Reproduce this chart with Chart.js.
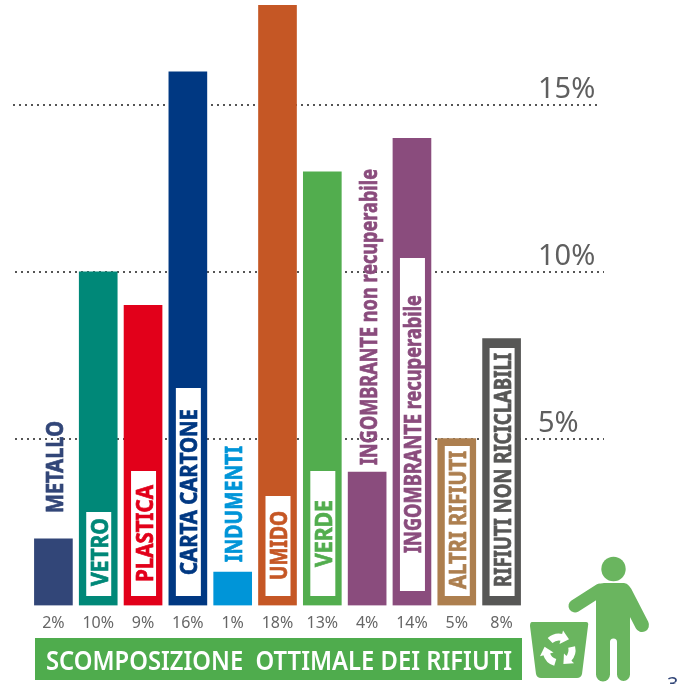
<!DOCTYPE html>
<html>
<head>
<meta charset="utf-8">
<style>
  html, body { margin: 0; padding: 0; background: #fff; overflow: hidden; }
  canvas { display: block; }
</style>
<script src="https://cdn.jsdelivr.net/npm/chart.js@4"></script>
</head>
<body>
<canvas id="wasteChart" width="680" height="684"></canvas>
<script>
const categories = ['METALLO', 'VETRO', 'PLASTICA', 'CARTA CARTONE', 'INDUMENTI', 'UMIDO', 'VERDE',
  'INGOMBRANTE non recuperabile', 'INGOMBRANTE recuperabile', 'ALTRI RIFIUTI', 'RIFIUTI NON RICICLABILI'];
const values = [2, 10, 9, 16, 1, 18, 13, 4, 14, 5, 8];
const barColors = ['#324678', '#008878', '#e2001a', '#003882', '#0095d8', '#c55725', '#52ad4e',
  '#8a4c7d', '#8a4c7d', '#ad7f4f', '#575756'];
const gridValues = [5, 10, 15];
const titleText = 'SCOMPOSIZIONE  OTTIMALE DEI RIFIUTI';
const pageNumber = '3';

// label layout, in page pixels: [top, bottom] of the text, and of the white box (null = no box)
const labelSpans = [[421, 513], [518, 586], [485, 582], [409, 575], [446, 562], [511, 580], [500, 567],
  [169, 465], [295, 553], [451, 589], [353, 587]];
const labelBoxes = [null, [512, 596], [471, 596], [388, 596], null, [496, 596], [471, 596],
  null, [258, 591], [446, 596], [348, 596]];

const FONT = '"Noto Sans", sans-serif';

const gridPlugin = {
  id: 'dottedGrid',
  beforeDatasetsDraw(chart) {
    const { ctx } = chart;
    const y = chart.scales.y;
    ctx.save();
    ctx.strokeStyle = '#555';
    ctx.lineWidth = 2;
    ctx.setLineDash([2, 4]);
    gridValues.forEach((v) => {
      const py = Math.round(y.getPixelForValue(v));
      ctx.beginPath();
      ctx.moveTo(v === 15 ? 13 : 15, py);
      ctx.lineTo(v === 15 ? 601 : 604, py);
      ctx.stroke();
    });
    ctx.restore();
  },
};

const labelPlugin = {
  id: 'barLabels',
  afterDatasetsDraw(chart) {
    const { ctx } = chart;
    const bars = chart.getDatasetMeta(0).data;
    categories.forEach((name, i) => {
      const cx = bars[i].x;
      const box = labelBoxes[i];
      if (box) {
        ctx.fillStyle = '#fff';
        ctx.fillRect(cx - 12, box[0], 25, box[1] - box[0]);
      }
      const [top, bottom] = labelSpans[i];
      ctx.save();
      ctx.font = 'bold 24px ' + FONT;
      ctx.fillStyle = barColors[i];
      ctx.strokeStyle = barColors[i];
      ctx.lineWidth = 0.7;
      ctx.textBaseline = 'alphabetic';
      ctx.translate(cx + 9.5, bottom);
      ctx.rotate(-Math.PI / 2);
      // squeeze the text to the length it has in the picture
      ctx.scale((bottom - top) / ctx.measureText(name).width, 1);
      ctx.fillText(name, 0, 0);
      ctx.strokeText(name, 0, 0);
      ctx.restore();
    });
  },
};

function drawRecycle(ctx, cx, cy) {
  ctx.save();
  ctx.translate(cx, cy);
  ctx.fillStyle = '#fff';
  ctx.strokeStyle = '#fff';
  ctx.lineCap = 'butt';
  for (let i = 0; i < 3; i++) {
    ctx.rotate((Math.PI * 2) / 3);
    ctx.lineWidth = 7;
    ctx.beginPath();
    ctx.arc(0, 0, 13, -Math.PI * 0.74, -Math.PI * 0.42);
    ctx.stroke();
    const a = -Math.PI * 0.42;
    ctx.save();
    ctx.translate(13 * Math.cos(a), 13 * Math.sin(a));
    ctx.rotate(a + Math.PI / 2);
    ctx.beginPath();
    ctx.moveTo(7, 0);
    ctx.lineTo(-1, -7);
    ctx.lineTo(-1, 7);
    ctx.closePath();
    ctx.fill();
    ctx.restore();
  }
  ctx.restore();
}

const decorPlugin = {
  id: 'decor',
  afterDraw(chart) {
    const { ctx } = chart;
    ctx.save();
    // title band
    ctx.fillStyle = '#4fac4d';
    ctx.fillRect(35, 638, 487, 42);
    ctx.font = '600 27px ' + FONT;
    ctx.fillStyle = '#fff';
    ctx.textBaseline = 'alphabetic';
    ctx.save();
    ctx.translate(46, 670);
    ctx.scale(466 / ctx.measureText(titleText).width, 1);
    ctx.fillText(titleText, 0, 0);
    ctx.restore();

    // man
    const green = '#6ab55f';
    ctx.fillStyle = green;
    ctx.strokeStyle = green;
    ctx.lineCap = 'round';
    ctx.beginPath();
    ctx.arc(613.5, 569, 12.2, 0, Math.PI * 2);
    ctx.fill();
    ctx.lineWidth = 13;
    ctx.beginPath();
    ctx.moveTo(600, 590);
    ctx.lineTo(575, 606);
    ctx.stroke();
    ctx.lineWidth = 14;
    ctx.beginPath();
    ctx.moveTo(625, 592);
    ctx.lineTo(642, 625);
    ctx.stroke();
    ctx.beginPath();
    ctx.moveTo(596, 590);
    ctx.quadraticCurveTo(598, 583, 604, 583);
    ctx.lineTo(624, 583);
    ctx.quadraticCurveTo(630, 584, 630, 590);
    ctx.lineTo(630, 674);
    ctx.arc(623.5, 674.5, 6.5, 0, Math.PI);
    ctx.lineTo(617, 642);
    ctx.arc(613.5, 642, 3.5, 0, Math.PI, true);
    ctx.lineTo(610, 674);
    ctx.arc(603, 674.5, 7, 0, Math.PI);
    ctx.closePath();
    ctx.fill();

    // bin
    ctx.beginPath();
    ctx.moveTo(532, 622);
    ctx.lineTo(586, 622);
    ctx.quadraticCurveTo(589, 622, 588, 626);
    ctx.lineTo(582, 674);
    ctx.quadraticCurveTo(581, 678, 577, 678);
    ctx.lineTo(541, 678);
    ctx.quadraticCurveTo(537, 678, 536, 674);
    ctx.lineTo(530, 626);
    ctx.quadraticCurveTo(530, 622, 532, 622);
    ctx.closePath();
    ctx.fill();
    drawRecycle(ctx, 559, 650);

    // page number
    ctx.font = '20px ' + FONT;
    ctx.fillStyle = '#324678';
    ctx.fillText(pageNumber, 667, 691);
    ctx.restore();
  },
};

new Chart(document.getElementById('wasteChart'), {
  type: 'bar',
  data: {
    labels: categories,
    datasets: [{
      data: values,
      backgroundColor: barColors,
      barThickness: 38,
      borderWidth: 0,
    }],
  },
  options: {
    responsive: false,
    animation: false,
    layout: { padding: { left: 31, top: 5, right: 0, bottom: 0 } },
    plugins: { legend: { display: false }, tooltip: { enabled: false } },
    scales: {
      x: {
        grid: { display: false },
        border: { display: false },
        afterFit(scale) {
          scale.height = 78.5;
          scale.paddingLeft = 0;
          scale.paddingRight = 0;
        },
        ticks: {
          autoSkip: false,
          maxRotation: 0,
          padding: 0,
          color: '#666',
          font: { family: FONT, size: 16 },
          callback(value, index) { return values[index] + '%'; },
        },
      },
      y: {
        position: 'right',
        min: 0,
        max: 18,
        grid: { display: false, drawTicks: false },
        border: { display: false },
        afterFit(scale) {
          scale.width = 156;
          scale.paddingTop = 0;
          scale.paddingBottom = 0;
        },
        ticks: {
          stepSize: 5,
          padding: 14,
          labelOffset: -15,
          color: '#5f5f5f',
          font: { family: FONT, size: 29 },
          callback(value) { return gridValues.includes(value) ? value + '%' : ''; },
        },
      },
    },
  },
  plugins: [gridPlugin, labelPlugin, decorPlugin],
});
</script>
</body>
</html>
